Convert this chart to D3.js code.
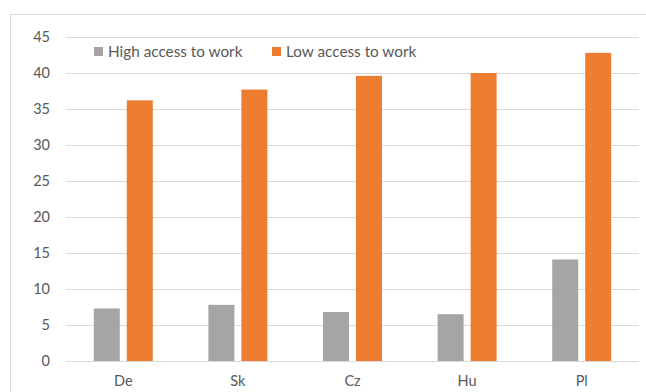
<!DOCTYPE html>
<html><head><meta charset="utf-8">
<script src="https://cdn.jsdelivr.net/npm/d3@7"></script>
<style>body{margin:0;background:#fff}svg{display:block}</style>
</head><body>
<script>
const categories = ["De","Sk","Cz","Hu","Pl"];
const seriesNames = ["High access to work","Low access to work"];
const highAccess = [7.3,7.8,6.8,6.5,14.1];
const lowAccess = [36.2,37.7,39.6,40.0,42.8];
const yTicks = [0,5,10,15,20,25,30,35,40,45];
const colors = ["#a5a5a5","#ed7d31"];

const W=646,H=392;
const svg=d3.select("body").append("svg").attr("width",W).attr("height",H);
const font="Lato, 'Open Sans', sans-serif";
const fs=14.5;
svg.append("rect").attr("x",10.5).attr("y",14.5).attr("width",W+10).attr("height",H+10)
  .attr("fill","#fff").attr("stroke","#d9d9d9");

const x=d3.scaleBand().domain(categories).range([66,639]);
const y=d3.scaleLinear().domain([0,45]).range([361,37]);

const g=svg.append("g");
g.selectAll("line.grid").data(yTicks).join("line")
  .attr("x1",66).attr("x2",639).attr("y1",d=>Math.round(y(d))+0.5).attr("y2",d=>Math.round(y(d))+0.5)
  .attr("stroke","#d9d9d9").attr("stroke-width",1);

const yAxis=d3.axisLeft(y).tickValues(yTicks).tickSize(0).tickPadding(0);
const ya=svg.append("g").attr("transform","translate(50,0)").call(yAxis);
ya.select(".domain").remove();
ya.selectAll("text").attr("font-family",font).attr("font-size",fs).attr("fill","#595959");

const xAxis=d3.axisBottom(x).tickSize(0).tickPadding(0);
const xa=svg.append("g").attr("transform","translate(0,376)").call(xAxis);
xa.select(".domain").remove();
xa.selectAll("text").attr("font-family",font).attr("font-size",fs).attr("fill","#595959");

const barW=26,gap=7;
const series=[highAccess,lowAccess];
series.forEach((vals,si)=>{
  g.selectAll("rect.s"+si).data(vals).join("rect")
   .attr("x",(d,i)=>x(categories[i])+x.bandwidth()/2-(barW*2+gap)/2+si*(barW+gap))
   .attr("width",barW)
   .attr("y",d=>y(d)).attr("height",d=>y(0)-y(d))
   .attr("fill",colors[si]);
});
g.append("line").attr("x1",66).attr("x2",639).attr("y1",361.5).attr("y2",361.5).attr("stroke","#d9d9d9");

const legX=[94,272];
seriesNames.forEach((n,i)=>{
  svg.append("rect").attr("x",legX[i]).attr("y",47).attr("width",9).attr("height",9).attr("fill",colors[i]);
  svg.append("text").attr("x",legX[i]+14).attr("y",56.5).text(n)
   .attr("font-family",font).attr("font-size",15.3).attr("fill","#595959");
});
</script>
</body></html>
